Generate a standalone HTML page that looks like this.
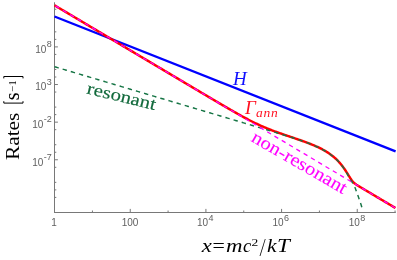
<!DOCTYPE html>
<html><head><meta charset="utf-8"><style>
html,body{margin:0;padding:0;background:#fff;}
svg{display:block;will-change:transform;}
.tl{font-family:"Liberation Sans",sans-serif;font-size:10px;fill:#606060}
.sup{font-size:9px}
.ser{font-family:"Liberation Serif",serif}
</style></head><body>
<svg width="397" height="260" viewBox="0 0 397 260">
<rect width="397" height="260" fill="#fff"/>
<g fill="none" stroke="#787878" stroke-width="1">
<path d="M54.5 2.3 V213 M54 212.5 H395.8"/>
<path d="M54.5 9.27 h1.8 M54.5 16.80 h1.8 M54.5 31.85 h1.8 M54.5 39.38 h1.8 M54.5 46.90 h3.4 M54.5 54.42 h1.8 M54.5 69.47 h1.8 M54.5 77.00 h1.8 M54.5 84.53 h3.4 M54.5 92.05 h1.8 M54.5 107.10 h1.8 M54.5 114.62 h1.8 M54.5 122.15 h3.4 M54.5 129.68 h1.8 M54.5 144.72 h1.8 M54.5 152.25 h1.8 M54.5 159.78 h3.4 M54.5 167.30 h1.8 M54.5 182.35 h1.8 M54.5 189.88 h1.8 M54.5 197.40 h1.8 M92.43 212.5 v-2 M130.26 212.5 v-3.6 M168.09 212.5 v-2 M205.92 212.5 v-3.6 M243.75 212.5 v-2 M281.58 212.5 v-3.6 M319.41 212.5 v-2 M357.24 212.5 v-3.6 M395.07 212.5 v-2"/>
</g>
<g fill="none" stroke-linejoin="round">
<path d="M54.5 16.5 L395.6 151.3" stroke="#0000ff" stroke-width="2.35"/>
<path d="M54.50 5.30 L55.50 5.89 L56.50 6.49 L57.50 7.08 L58.50 7.68 L59.50 8.27 L60.50 8.87 L61.50 9.46 L62.50 10.06 L63.50 10.65 L64.50 11.24 L65.50 11.84 L66.50 12.43 L67.50 13.03 L68.50 13.62 L69.50 14.22 L70.50 14.81 L71.50 15.41 L72.50 16.00 L73.50 16.60 L74.50 17.19 L75.50 17.78 L76.50 18.38 L77.50 18.97 L78.50 19.57 L79.50 20.16 L80.50 20.76 L81.50 21.35 L82.50 21.95 L83.50 22.54 L84.50 23.13 L85.50 23.73 L86.50 24.32 L87.50 24.92 L88.50 25.51 L89.50 26.11 L90.50 26.70 L91.50 27.30 L92.50 27.89 L93.50 28.49 L94.50 29.08 L95.50 29.67 L96.50 30.27 L97.50 30.86 L98.50 31.46 L99.50 32.05 L100.50 32.65 L101.50 33.24 L102.50 33.84 L103.50 34.43 L104.50 35.02 L105.50 35.62 L106.50 36.21 L107.50 36.81 L108.50 37.40 L109.50 38.00 L110.50 38.59 L111.50 39.19 L112.50 39.78 L113.50 40.38 L114.50 40.97 L115.50 41.56 L116.50 42.16 L117.50 42.75 L118.50 43.35 L119.50 43.94 L120.50 44.54 L121.50 45.13 L122.50 45.73 L123.50 46.32 L124.50 46.91 L125.50 47.51 L126.50 48.10 L127.50 48.70 L128.50 49.29 L129.50 49.89 L130.50 50.48 L131.50 51.08 L132.50 51.67 L133.50 52.27 L134.50 52.86 L135.50 53.45 L136.50 54.05 L137.50 54.64 L138.50 55.24 L139.50 55.83 L140.50 56.43 L141.50 57.02 L142.50 57.62 L143.50 58.21 L144.50 58.80 L145.50 59.40 L146.50 59.99 L147.50 60.59 L148.50 61.18 L149.50 61.78 L150.50 62.37 L151.50 62.97 L152.50 63.56 L153.50 64.16 L154.50 64.75 L155.50 65.34 L156.50 65.94 L157.50 66.53 L158.50 67.13 L159.50 67.72 L160.50 68.32 L161.50 68.91 L162.50 69.51 L163.50 70.10 L164.50 70.69 L165.50 71.29 L166.50 71.88 L167.50 72.48 L168.50 73.07 L169.50 73.67 L170.50 74.26 L171.50 74.86 L172.50 75.45 L173.50 76.04 L174.50 76.64 L175.50 77.23 L176.50 77.83 L177.50 78.42 L178.50 79.02 L179.50 79.61 L180.50 80.20 L181.50 80.80 L182.50 81.39 L183.50 81.99 L184.50 82.58 L185.50 83.18 L186.50 83.77 L187.50 84.36 L188.50 84.96 L189.50 85.55 L190.50 86.15 L191.50 86.74 L192.50 87.33 L193.50 87.93 L194.50 88.52 L195.50 89.12 L196.50 89.71 L197.50 90.30 L198.50 90.90 L199.50 91.49 L200.50 92.08 L201.50 92.68 L202.50 93.27 L203.50 93.86 L204.50 94.46 L205.50 95.05 L206.50 95.64 L207.50 96.23 L208.50 96.83 L209.50 97.42 L210.50 98.01 L211.50 98.60 L212.50 99.19 L213.50 99.78 L214.50 100.37 L215.50 100.96 L216.50 101.55 L217.50 102.14 L218.50 102.73 L219.50 103.32 L220.50 103.91 L221.50 104.49 L222.50 105.08 L223.50 105.66 L224.50 106.25 L225.50 106.83 L226.50 107.41 L227.50 108.00 L228.50 108.58 L229.50 109.16 L230.50 109.73 L231.50 110.31 L232.50 110.88 L233.50 111.46 L234.50 112.03 L235.50 112.60 L236.50 113.16 L237.50 113.73 L238.50 114.29 L239.50 114.85 L240.50 115.40 L241.50 115.96 L242.50 116.51 L243.50 117.05 L244.50 117.59 L245.50 118.13 L246.50 118.67 L247.50 119.19 L248.50 119.72 L249.50 120.24 L250.50 120.75 L251.50 121.26 L252.50 121.77 L253.50 122.26 L254.50 122.76 L255.50 123.24 L256.50 123.72 L257.50 124.19 L258.50 124.66 L259.50 125.12 L260.50 125.57 L261.50 126.02 L262.50 126.46 L263.50 126.90 L264.50 127.32 L265.50 127.74 L266.50 128.16 L267.50 128.57 L268.50 128.97 L269.50 129.37 L270.50 129.76 L271.50 130.15 L272.50 130.53 L273.50 130.91 L274.50 131.28 L275.50 131.65 L276.50 132.01 L277.50 132.37 L278.50 132.73 L279.50 133.08 L280.50 133.44 L281.50 133.78 L282.50 134.13 L283.50 134.48 L284.50 134.82 L285.50 135.16 L286.50 135.50 L287.50 135.84 L288.50 136.18 L289.50 136.52 L290.50 136.85 L291.50 137.19 L292.50 137.53 L293.50 137.87 L294.50 138.21 L295.50 138.55 L296.50 138.89 L297.50 139.24 L298.50 139.58 L299.50 139.93 L300.50 140.28 L301.50 140.63 L302.50 140.99 L303.50 141.35 L304.50 141.71 L305.50 142.08 L306.50 142.45 L307.50 142.83 L308.50 143.21 L309.50 143.60 L310.50 143.99 L311.50 144.39 L312.50 144.80 L313.50 145.22 L314.50 145.64 L315.50 146.08 L316.50 146.52 L317.50 146.98 L318.50 147.45 L319.50 147.93 L320.50 148.43 L321.50 148.94 L322.50 149.46 L323.50 150.01 L324.50 150.57 L325.50 151.16 L326.50 151.76 L327.50 152.39 L328.50 153.05 L329.50 153.73 L330.50 154.44 L331.50 155.18 L332.50 155.96 L333.50 156.78 L334.50 157.63 L335.50 158.53 L336.50 159.47 L337.50 160.46 L338.50 161.50 L339.50 162.60 L340.50 163.76 L341.50 164.98 L342.50 166.26 L343.50 167.61 L344.50 169.04 L345.50 170.52 L346.50 172.07 L347.50 173.67 L348.50 175.30 L349.50 176.92 L350.50 178.49 L351.50 179.94 L352.50 181.23 L353.50 182.33 L354.50 183.26 L355.50 184.05 L356.50 184.75 L357.50 185.40 L358.50 186.01 L359.50 186.62 L360.50 187.22 L361.50 187.81 L362.50 188.41 L363.50 189.00 L364.50 189.59 L365.50 190.19 L366.50 190.78 L367.50 191.38 L368.50 191.97 L369.50 192.57 L370.50 193.16 L371.50 193.76 L372.50 194.35 L373.50 194.95 L374.50 195.54 L375.50 196.13 L376.50 196.73 L377.50 197.32 L378.50 197.92 L379.50 198.51 L380.50 199.11 L381.50 199.70 L382.50 200.30 L383.50 200.89 L384.50 201.49 L385.50 202.08 L386.50 202.67 L387.50 203.27 L388.50 203.86 L389.50 204.46 L390.50 205.05 L391.50 205.65 L392.50 206.24 L393.50 206.84 L394.50 207.43 L395.40 207.97" stroke="#ff0000" stroke-width="2.45"/>
<path d="M54.50 66.70 L55.50 67.00 L56.50 67.29 L57.50 67.59 L58.50 67.89 L59.50 68.19 L60.50 68.48 L61.50 68.78 L62.50 69.08 L63.50 69.37 L64.50 69.67 L65.50 69.97 L66.50 70.26 L67.50 70.56 L68.50 70.86 L69.50 71.16 L70.50 71.45 L71.50 71.75 L72.50 72.05 L73.50 72.34 L74.50 72.64 L75.50 72.94 L76.50 73.23 L77.50 73.53 L78.50 73.83 L79.50 74.13 L80.50 74.42 L81.50 74.72 L82.50 75.02 L83.50 75.31 L84.50 75.61 L85.50 75.91 L86.50 76.20 L87.50 76.50 L88.50 76.80 L89.50 77.10 L90.50 77.39 L91.50 77.69 L92.50 77.99 L93.50 78.28 L94.50 78.58 L95.50 78.88 L96.50 79.17 L97.50 79.47 L98.50 79.77 L99.50 80.07 L100.50 80.36 L101.50 80.66 L102.50 80.96 L103.50 81.25 L104.50 81.55 L105.50 81.85 L106.50 82.14 L107.50 82.44 L108.50 82.74 L109.50 83.04 L110.50 83.33 L111.50 83.63 L112.50 83.93 L113.50 84.22 L114.50 84.52 L115.50 84.82 L116.50 85.11 L117.50 85.41 L118.50 85.71 L119.50 86.01 L120.50 86.30 L121.50 86.60 L122.50 86.90 L123.50 87.19 L124.50 87.49 L125.50 87.79 L126.50 88.08 L127.50 88.38 L128.50 88.68 L129.50 88.98 L130.50 89.27 L131.50 89.57 L132.50 89.87 L133.50 90.16 L134.50 90.46 L135.50 90.76 L136.50 91.05 L137.50 91.35 L138.50 91.65 L139.50 91.95 L140.50 92.24 L141.50 92.54 L142.50 92.84 L143.50 93.13 L144.50 93.43 L145.50 93.73 L146.50 94.02 L147.50 94.32 L148.50 94.62 L149.50 94.92 L150.50 95.21 L151.50 95.51 L152.50 95.81 L153.50 96.10 L154.50 96.40 L155.50 96.70 L156.50 96.99 L157.50 97.29 L158.50 97.59 L159.50 97.89 L160.50 98.18 L161.50 98.48 L162.50 98.78 L163.50 99.07 L164.50 99.37 L165.50 99.67 L166.50 99.96 L167.50 100.26 L168.50 100.56 L169.50 100.86 L170.50 101.15 L171.50 101.45 L172.50 101.75 L173.50 102.04 L174.50 102.34 L175.50 102.64 L176.50 102.93 L177.50 103.23 L178.50 103.53 L179.50 103.83 L180.50 104.12 L181.50 104.42 L182.50 104.72 L183.50 105.01 L184.50 105.31 L185.50 105.61 L186.50 105.90 L187.50 106.20 L188.50 106.50 L189.50 106.80 L190.50 107.09 L191.50 107.39 L192.50 107.69 L193.50 107.98 L194.50 108.28 L195.50 108.58 L196.50 108.87 L197.50 109.17 L198.50 109.47 L199.50 109.77 L200.50 110.06 L201.50 110.36 L202.50 110.66 L203.50 110.95 L204.50 111.25 L205.50 111.55 L206.50 111.84 L207.50 112.14 L208.50 112.44 L209.50 112.74 L210.50 113.03 L211.50 113.33 L212.50 113.63 L213.50 113.92 L214.50 114.22 L215.50 114.52 L216.50 114.82 L217.50 115.11 L218.50 115.41 L219.50 115.71 L220.50 116.00 L221.50 116.30 L222.50 116.60 L223.50 116.90 L224.50 117.19 L225.50 117.49 L226.50 117.79 L227.50 118.08 L228.50 118.38 L229.50 118.68 L230.50 118.98 L231.50 119.27 L232.50 119.57 L233.50 119.87 L234.50 120.16 L235.50 120.46 L236.50 120.76 L237.50 121.06 L238.50 121.35 L239.50 121.65 L240.50 121.95 L241.50 122.25 L242.50 122.54 L243.50 122.84 L244.50 123.14 L245.50 123.44 L246.50 123.74 L247.50 124.03 L248.50 124.33 L249.50 124.63 L250.50 124.93 L251.50 125.23 L252.50 125.52 L253.50 125.82 L254.50 126.12 L255.50 126.42 L256.50 126.72 L257.50 127.02 L258.50 127.32 L259.50 127.61 L260.50 127.91 L261.50 128.21 L262.50 128.51 L263.50 128.81 L264.50 129.11 L265.50 129.41 L266.50 129.71 L267.50 130.01 L268.50 130.32 L269.50 130.62 L270.50 130.92 L271.50 131.22 L272.50 131.52 L273.50 131.83 L274.50 132.13 L275.50 132.43 L276.50 132.74 L277.50 133.04 L278.50 133.35 L279.50 133.66 L280.50 133.96 L281.50 134.27 L282.50 134.58 L283.50 134.89 L284.50 135.20 L285.50 135.51 L286.50 135.82 L287.50 136.14 L288.50 136.45 L289.50 136.77 L290.50 137.09 L291.50 137.41 L292.50 137.73 L293.50 138.05 L294.50 138.38 L295.50 138.71 L296.50 139.04 L297.50 139.37 L298.50 139.70 L299.50 140.04 L300.50 140.38 L301.50 140.73 L302.50 141.08 L303.50 141.43 L304.50 141.79 L305.50 142.15 L306.50 142.52 L307.50 142.89 L308.50 143.27 L309.50 143.65 L310.50 144.04 L311.50 144.44 L312.50 144.85 L313.50 145.26 L314.50 145.68 L315.50 146.12 L316.50 146.56 L317.50 147.02 L318.50 147.48 L319.50 147.96 L320.50 148.46 L321.50 148.97 L322.50 149.50 L323.50 150.04 L324.50 150.60 L325.50 151.19 L326.50 151.79 L327.50 152.42 L328.50 153.08 L329.50 153.76 L330.50 154.47 L331.50 155.22 L332.50 156.00 L333.50 156.82 L334.50 157.67 L335.50 158.58 L336.50 159.52 L337.50 160.52 L338.50 161.57 L339.50 162.68 L340.50 163.85 L341.50 165.09 L342.50 166.41 L343.50 167.80 L344.50 169.27 L345.50 170.84 L346.50 172.51 L347.00 173.38 L350.00 178.90 L352.00 181.90 L353.50 184.60 L355.20 188.00 L356.80 192.50 L358.20 196.30 L359.90 201.20 L361.10 204.80 L362.60 209.80" stroke="#167545" stroke-width="1.45" stroke-dasharray="4.4 4.09"/>
<path d="M54.5 5.30 L395.4 207.97" stroke="#ff00ff" stroke-width="1.3" stroke-dasharray="4.4 4.09" stroke-dashoffset="-1.2"/>
</g>
<g class="tl">
<text x="51.8" y="52.8" text-anchor="end"><tspan>10</tspan><tspan class="sup" dy="-5.8" dx="0.5">8</tspan></text>
<text x="51.8" y="90.4" text-anchor="end"><tspan>10</tspan><tspan class="sup" dy="-5.8" dx="0.5">3</tspan></text>
<text x="51.8" y="128.0" text-anchor="end"><tspan>10</tspan><tspan class="sup" dy="-5.8" dx="0.5">-2</tspan></text>
<text x="51.8" y="165.7" text-anchor="end"><tspan>10</tspan><tspan class="sup" dy="-5.8" dx="0.5">-7</tspan></text>
<text x="54" y="226" text-anchor="middle">1</text>
<text x="130" y="226" text-anchor="middle">100</text>
<text x="205.2" y="226" text-anchor="middle"><tspan>10</tspan><tspan class="sup" dy="-5.3" dx="0.5">4</tspan></text>
<text x="280.8" y="226" text-anchor="middle"><tspan>10</tspan><tspan class="sup" dy="-5.3" dx="0.5">6</tspan></text>
<text x="357.0" y="226" text-anchor="middle"><tspan>10</tspan><tspan class="sup" dy="-5.3" dx="0.5">8</tspan></text>
</g>
<g class="ser">
<text x="233" y="85" font-size="19" font-style="italic" fill="#1010ff">H</text>
<text x="245" y="114.2" font-size="19" font-style="italic" fill="#ff1020">Γ<tspan font-size="13.5" dy="2.8" dx="0.2" letter-spacing="0.8">ann</tspan></text>
<text transform="translate(120.3,101.7) rotate(13.7) scale(1.19,1)" text-anchor="middle" font-size="17.5" fill="#126a3c" stroke="#126a3c" stroke-width="0.15">resonant</text>
<text transform="translate(296.6,167.6) rotate(30) scale(1.11,1)" text-anchor="middle" font-size="18.5" fill="#ff00ff" stroke="#ff00ff" stroke-width="0.1">non-resonant</text>
<text transform="translate(19,160) rotate(-90) scale(1.094,1)" font-size="19.5" fill="#000">Rates</text>
<text transform="translate(18.9,100.2) rotate(-90)" font-size="20" fill="#000">s</text>
<text transform="translate(15.9,91.4) rotate(-90)" font-size="10.5" fill="#000">−1</text>
<path d="M3.8 101.2 V103.1 H23 V101.2 M3.8 78.4 V76.5 H23 V78.4" fill="none" stroke="#000" stroke-width="1"/>
<text transform="translate(201.66,252.30) scale(1.196,1.000)" font-size="19" font-style="italic" fill="#000">x</text>
<text transform="translate(210.98,252.30) scale(1.163,1.000)" font-size="19" font-style="italic" fill="#000">=</text>
<text transform="translate(226.09,252.30) scale(1.203,1.000)" font-size="19" font-style="italic" fill="#000">m</text>
<text transform="translate(243.01,252.30) scale(0.973,1.000)" font-size="19" font-style="italic" fill="#000">c</text>
<text transform="translate(251.58,246.40) scale(1.287,1.000)" font-size="10.5" fill="#000">2</text>
<text transform="translate(260.22,256.00) scale(0.803,1.380)" font-size="19" font-style="italic" fill="#000">/</text>
<text transform="translate(266.97,252.30) scale(1.127,1.000)" font-size="19" font-style="italic" fill="#000">k</text>
<text transform="translate(276.96,252.30) scale(1.216,1.000)" font-size="19" font-style="italic" fill="#000">T</text>
</g>
</svg>
</body></html>
